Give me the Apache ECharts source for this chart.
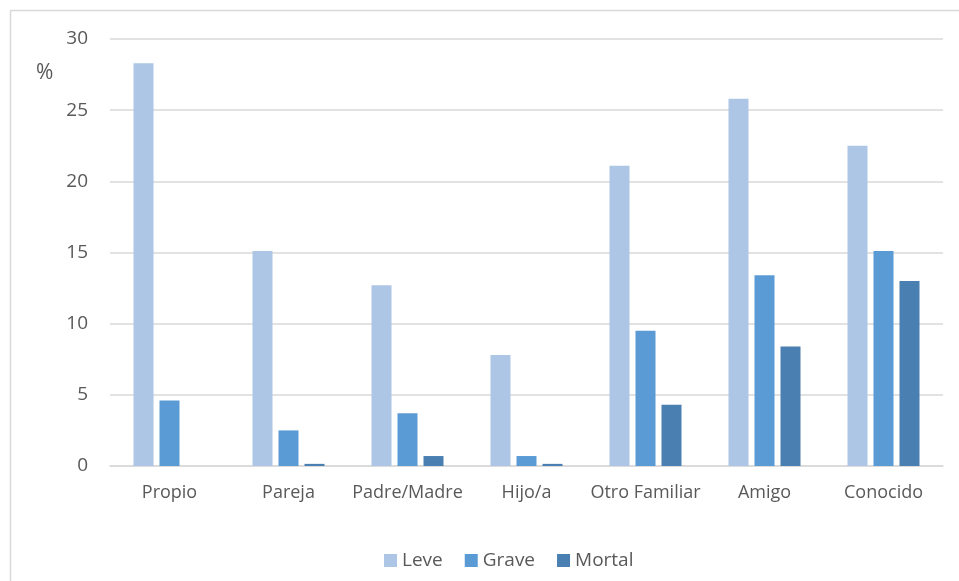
<!DOCTYPE html>
<html>
<head>
<meta charset="utf-8">
<script src="https://cdn.jsdelivr.net/npm/echarts@6/dist/echarts.min.js"></script>
<style>
  html, body { margin: 0; padding: 0; background: #ffffff; }
  #chart { width: 959px; height: 581px; }
</style>
</head>
<body>
<div id="chart"></div>
<script>
// Relación con la víctima y gravedad de la lesión (%)
const categories = ['Propio', 'Pareja', 'Padre/Madre', 'Hijo/a', 'Otro Familiar', 'Amigo', 'Conocido'];
const leve   = [28.3, 15.1, 12.7, 7.8, 21.1, 25.8, 22.5];
const grave  = [4.6, 2.5, 3.7, 0.7, 9.5, 13.4, 15.1];
const mortal = [0, 0.15, 0.7, 0.15, 4.3, 8.4, 13.0];
const yTicks = { min: 0, max: 30, interval: 5 };

const textColor = '#595959';
const lineColor = '#d9d9d9';
const fontFamily = '"Open Sans", "Noto Sans", sans-serif';

const chart = echarts.init(document.getElementById('chart'), null, { renderer: 'canvas' });

function barSeries(name, data, color) {
  return {
    name: name,
    type: 'bar',
    data: data,
    barWidth: 20,
    barGap: '30%',
    itemStyle: { color: color },
    emphasis: { disabled: true }
  };
}

chart.setOption({
  animation: false,
  backgroundColor: '#ffffff',
  textStyle: { fontFamily: fontFamily },
  title: {
    text: '%',
    left: 31,
    top: 58,
    textStyle: { color: textColor, fontSize: 21, fontWeight: 'normal', fontFamily: fontFamily }
  },
  graphic: [{
    type: 'rect',
    shape: { x: 10.5, y: 10.5, width: 970, height: 590 },
    style: { fill: 'none', stroke: lineColor, lineWidth: 1.5 },
    silent: true
  }],
  legend: {
    left: 379,
    top: 546,
    icon: 'rect',
    itemWidth: 13,
    itemHeight: 13,
    itemGap: 22,
    textStyle: { color: textColor, fontSize: 19, fontFamily: fontFamily },
    data: ['Leve', 'Grave', 'Mortal']
  },
  grid: { left: 110, right: 16, top: 39, bottom: 115, containLabel: false },
  xAxis: {
    type: 'category',
    data: categories,
    axisTick: { show: false },
    axisLine: { lineStyle: { color: lineColor, width: 1.5 } },
    axisLabel: { color: textColor, fontSize: 18, margin: 18, interval: 0, fontFamily: fontFamily }
  },
  yAxis: {
    type: 'value',
    min: yTicks.min,
    max: yTicks.max,
    interval: yTicks.interval,
    axisLine: { show: false },
    axisTick: { show: false },
    axisLabel: { color: textColor, fontSize: 19, margin: 22, fontFamily: fontFamily },
    splitLine: { lineStyle: { color: lineColor, width: 1.5 } }
  },
  series: [
    barSeries('Leve', leve, '#aec6e6'),
    barSeries('Grave', grave, '#5b9bd5'),
    barSeries('Mortal', mortal, '#4a7fb1')
  ]
});
</script>
</body>
</html>
